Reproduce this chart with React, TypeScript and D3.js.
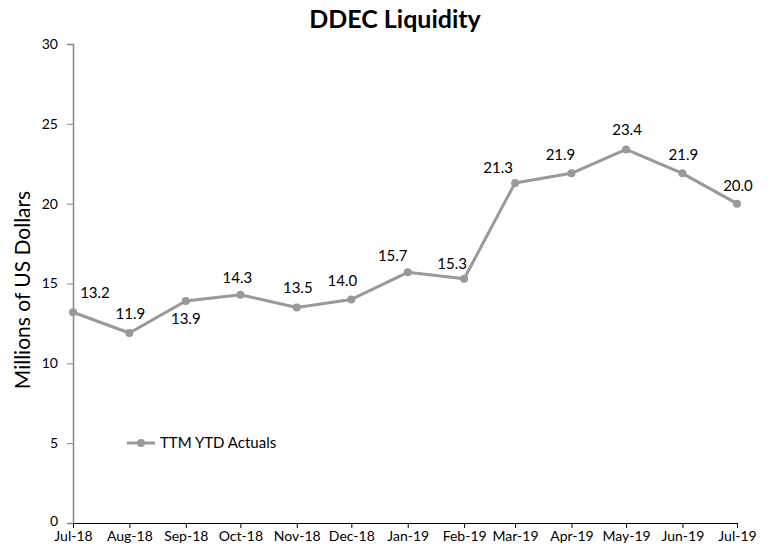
import React, { useEffect, useRef } from 'react';
import * as d3 from 'd3';

const months = ['Jul-18', 'Aug-18', 'Sep-18', 'Oct-18', 'Nov-18', 'Dec-18', 'Jan-19',
  'Feb-19', 'Mar-19', 'Apr-19', 'May-19', 'Jun-19', 'Jul-19'];
const actuals = [13.2, 11.9, 13.9, 14.3, 13.5, 14.0, 15.7, 15.3, 21.3, 21.9, 23.4, 21.9, 20.0];
const yTicks = [0, 5, 10, 15, 20, 25, 30];
const seriesName = 'TTM YTD Actuals';

const parseMonth = d3.timeParse('%b-%y');

export default function App() {
  const ref = useRef<SVGSVGElement | null>(null);

  useEffect(() => {
    const svg = d3.select(ref.current);
    svg.selectAll('*').remove();

    const font = 'Lato, Calibri, "Open Sans", sans-serif';
    const margin = { top: 44, left: 73, right: 33, bottom: 32 };
    const width = 770;
    const height = 555;
    const data = months.map((m, i) => ({ date: parseMonth(m) as Date, label: m, value: actuals[i] }));

    const x = d3.scaleTime()
      .domain(d3.extent(data, d => d.date) as [Date, Date])
      .range([margin.left, width - margin.right]);
    const y = d3.scaleLinear().domain([0, 30]).range([height - margin.bottom, margin.top]);

    svg.append('text')
      .attr('x', 395).attr('y', 28)
      .attr('text-anchor', 'middle')
      .style('font-family', font).style('font-weight', 'bold').style('font-size', '25px')
      .text('DDEC Liquidity');

    svg.append('text')
      .attr('transform', `translate(30,290) rotate(-90)`)
      .attr('text-anchor', 'middle')
      .style('font-family', font).style('font-size', '21px')
      .text('Millions of US Dollars');

    const yAxis = svg.append('g')
      .attr('transform', `translate(${margin.left},0)`)
      .call(d3.axisLeft(y).tickValues(yTicks).tickSize(6).tickPadding(9));
    yAxis.select('.domain').attr('stroke', '#888').attr('stroke-width', 1.5);
    yAxis.selectAll('line').attr('stroke', '#888');
    yAxis.selectAll('text').style('font-family', font).style('font-size', '14px').attr('fill', '#000');
    // lift the zero label a touch so it clears Jul-18
    yAxis.selectAll('text').filter(d => d === 0).attr('dy', '0.2em');

    const xAxis = svg.append('g')
      .attr('transform', `translate(0,${y(0)})`)
      .call(d3.axisBottom(x).tickValues(data.map(d => d.date))
        .tickFormat((d, i) => months[i]).tickSize(5).tickPadding(3).tickSizeOuter(0));
    xAxis.select('.domain').attr('stroke', '#000').attr('stroke-width', 1.2);
    xAxis.selectAll('line').attr('stroke', '#000');
    xAxis.selectAll('text').style('font-family', font).style('font-size', '14px').attr('fill', '#000');

    const line = d3.line<{ date: Date; value: number }>()
      .x(d => x(d.date)).y(d => y(d.value));

    svg.append('path')
      .datum(data)
      .attr('fill', 'none').attr('stroke', '#999').attr('stroke-width', 3)
      .attr('stroke-linejoin', 'round')
      .attr('d', line);

    svg.selectAll('.dot').data(data).enter().append('circle')
      .attr('cx', d => x(d.date)).attr('cy', d => y(d.value))
      .attr('r', 4).attr('fill', '#999');

    // label nudges (dx, baseline dy)
    const offsets = [[22, -14], [1, -14], [0, 23], [-3, -12], [1, -14], [-9, -13], [-15, -11],
      [-12, -10], [-17, -10], [-11, -13], [1, -14], [1, -13], [1, -13]];
    svg.selectAll('.lbl').data(data).enter().append('text')
      .attr('x', (d, i) => x(d.date) + offsets[i][0])
      .attr('y', (d, i) => y(d.value) + offsets[i][1])
      .attr('text-anchor', 'middle')
      .style('font-family', font).style('font-size', '15px')
      .text(d => d.value.toFixed(1));

    const legend = svg.append('g').attr('transform', 'translate(127,443)');
    legend.append('line').attr('x1', 0).attr('x2', 28).attr('stroke', '#999').attr('stroke-width', 3);
    legend.append('circle').attr('cx', 14).attr('r', 4).attr('fill', '#999');
    legend.append('text').attr('x', 33).attr('y', 5)
      .style('font-family', font).style('font-size', '15px')
      .text(seriesName);
  }, []);

  return <svg ref={ref} width={770} height={555} style={{ position: 'absolute', left: 0, top: 0 }} />;
}
